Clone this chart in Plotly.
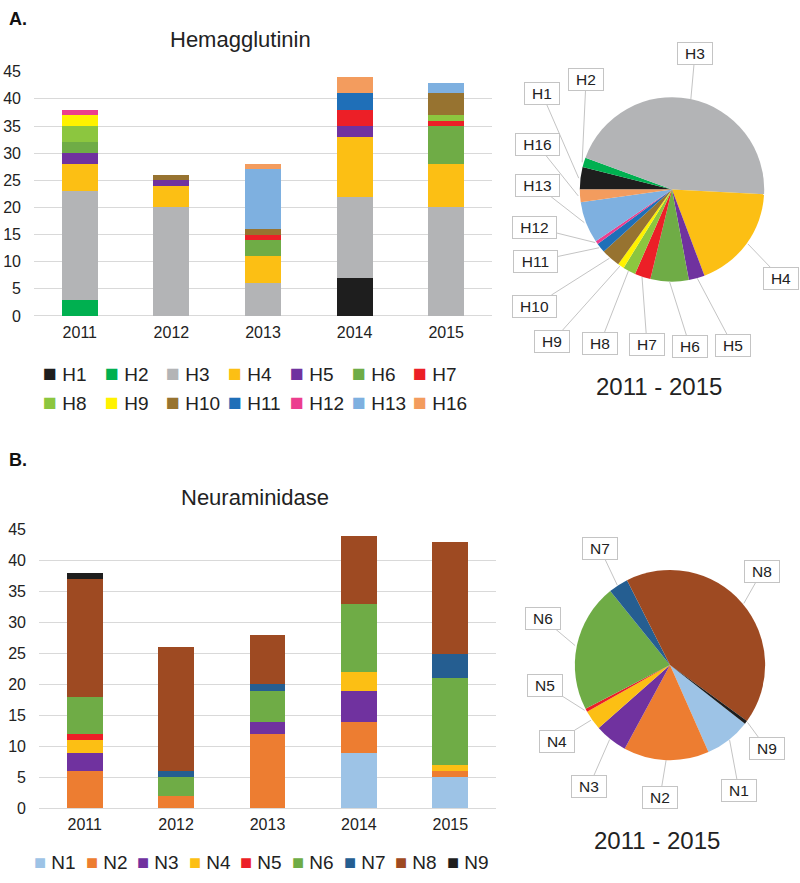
import numpy as np
import plotly.graph_objects as go

# ---------------- data ----------------
years = ['2011', '2012', '2013', '2014', '2015']

h_labels = ['H1', 'H2', 'H3', 'H4', 'H5', 'H6', 'H7', 'H8', 'H9', 'H10', 'H11', 'H12', 'H13', 'H16']
H1 = [0, 0, 0, 7, 0]
H2 = [3, 0, 0, 0, 0]
H3 = [20, 20, 6, 15, 20]
H4 = [5, 4, 5, 11, 8]
H5 = [2, 1, 0, 2, 0]
H6 = [2, 0, 3, 0, 7]
H7 = [0, 0, 1, 3, 1]
H8 = [3, 0, 0, 0, 1]
H9 = [2, 0, 0, 0, 0]
H10 = [0, 1, 1, 0, 4]
H11 = [0, 0, 0, 3, 0]
H12 = [1, 0, 0, 0, 0]
H13 = [0, 0, 11, 0, 2]
H16 = [0, 0, 1, 3, 0]
h_series = [H1, H2, H3, H4, H5, H6, H7, H8, H9, H10, H11, H12, H13, H16]

n_labels = ['N1', 'N2', 'N3', 'N4', 'N5', 'N6', 'N7', 'N8', 'N9']
N1 = [0, 0, 0, 9, 5]
N2 = [6, 2, 12, 5, 1]
N3 = [3, 0, 2, 5, 0]
N4 = [2, 0, 0, 3, 1]
N5 = [1, 0, 0, 0, 0]
N6 = [6, 3, 5, 11, 14]
N7 = [0, 1, 1, 0, 4]
N8 = [19, 20, 8, 11, 18]
N9 = [1, 0, 0, 0, 0]
n_series = [N1, N2, N3, N4, N5, N6, N7, N8, N9]

y_ticks = [0, 5, 10, 15, 20, 25, 30, 35, 40, 45]

# ---------------- styles ----------------
h_colors = ['#1e1e1e', '#00b050', '#b3b4b6', '#fcbf14', '#70329f', '#6fac46', '#ec1f27',
            '#8cc63f', '#fff200', '#977330', '#1f6fb8', '#ec3e8e', '#7eb0e0', '#f39c5e']
n_colors = ['#9dc3e6', '#ed7d31', '#70329f', '#fcbf14', '#ec1f27', '#6fac46', '#255e91',
            '#9e4a22', '#1e1e1e']

W, Hh = 800, 883
FONT = 'Liberation Sans, Arial, sans-serif'
TXT = '#222222'
GRID = '#d9d9d9'


def px_x(x):
    return x / W


def px_y(y):
    return 1 - y / Hh


fig = go.Figure()

for lab, vals, col in zip(h_labels, h_series, h_colors):
    fig.add_trace(go.Bar(x=years, y=vals, name=lab, marker=dict(color=col, line=dict(width=0)),
                         xaxis='x', yaxis='y', showlegend=False))

for lab, vals, col in zip(n_labels, n_series, n_colors):
    fig.add_trace(go.Bar(x=years, y=vals, name=lab, marker=dict(color=col, line=dict(width=0)),
                         xaxis='x2', yaxis='y2', showlegend=False))

# pies (totals over 2011-2015)
h_tot = [int(sum(s)) for s in h_series]
n_tot = [int(sum(s)) for s in n_series]

pieA = dict(cx=672, cy=185, r=94, rot=270)
pieB = dict(cx=670, cy=670, r=97, rot=128)

for p, labs, vals, cols in [(pieA, h_labels, h_tot, h_colors), (pieB, n_labels, n_tot, n_colors)]:
    fig.add_trace(go.Pie(labels=labs, values=vals, sort=False, direction='clockwise',
                         rotation=p['rot'], marker=dict(colors=cols, line=dict(width=0)),
                         textinfo='none', textposition='none', hoverinfo='label+value',
                         showlegend=False,
                         domain=dict(x=[px_x(p['cx'] - p['r']), px_x(p['cx'] + p['r'])],
                                     y=[px_y(p['cy'] + p['r']), px_y(p['cy'] - p['r'])])))

# label box centres (pixels)
h_boxes = {'H1': (542, 89), 'H2': (586, 75), 'H3': (695, 47), 'H4': (781, 275), 'H5': (733, 343),
           'H6': (690, 344), 'H7': (647, 342), 'H8': (600, 341), 'H9': (552, 339), 'H10': (534, 303),
           'H11': (535, 258), 'H12': (534, 224), 'H13': (537, 182), 'H16': (537, 140)}
n_boxes = {'N1': (739, 797), 'N2': (660, 804), 'N3': (589, 793), 'N4': (557, 747), 'N5': (545, 691),
           'N6': (543, 623), 'N7': (600, 552), 'N8': (762, 575), 'N9': (767, 755)}

annotations = []


def pie_labels(p, labs, vals, boxes):
    total = float(sum(vals))
    cum = 0.0
    for lab, v in zip(labs, vals):
        mid = p['rot'] + (cum + v / 2.0) / total * 360.0
        cum += v
        th = np.radians(mid)
        tx = p['cx'] + p['r'] * np.sin(th)
        ty = p['cy'] - p['r'] * np.cos(th)
        bx, by = boxes[lab]
        annotations.append(dict(
            x=px_x(tx), y=px_y(ty), xref='paper', yref='paper', text=lab,
            showarrow=True, arrowhead=0, arrowwidth=1, arrowcolor='#c4c4c4', standoff=0,
            ax=bx - tx, ay=by - ty, axref='pixel', ayref='pixel',
            bordercolor='#c4c4c4', borderwidth=1, borderpad=2, bgcolor='white',
            width=len(lab) * 9 + 12, font=dict(family=FONT, size=15.5, color=TXT)))


pie_labels(pieA, h_labels, h_tot, h_boxes)
pie_labels(pieB, n_labels, n_tot, n_boxes)


# legends: rows of colour squares + names (left edge x0, column step, row centre y)
def legend_row(labs, cols, x0, step, y, sq):
    for i, (lab, col) in enumerate(zip(labs, cols)):
        annotations.append(dict(
            text='<span style="color:%s;font-size:%dpx">\u25A0</span> %s' % (col, sq, lab),
            x=px_x(x0 + i * step), y=px_y(y), xref='paper', yref='paper',
            xanchor='left', yanchor='middle', showarrow=False,
            font=dict(family=FONT, size=19, color=TXT)))


legend_row(h_labels[:7], h_colors[:7], 41, 61.7, 372, 23)
legend_row(h_labels[7:], h_colors[7:], 41, 61.7, 402, 23)
legend_row(n_labels, n_colors, 32, 51.6, 871, 20)

# titles and panel letters
for txt, x, y, size in [('<b>A.</b>', 7, 11, 18), ('<b>B.</b>', 7, 461, 18)]:
    annotations.append(dict(text=txt, x=px_x(x), y=px_y(y), xref='paper', yref='paper',
                            xanchor='left', yanchor='middle', showarrow=False,
                            font=dict(family=FONT, size=size, color='#111111')))
for txt, x, y, size in [('Hemagglutinin', 240, 32, 22), ('Neuraminidase', 255, 499, 22),
                        ('2011 - 2015', 659, 386, 24), ('2011 - 2015', 657, 849, 24)]:
    annotations.append(dict(text=txt, x=px_x(x), y=px_y(y), xref='paper', yref='paper',
                            xanchor='center', yanchor='middle', showarrow=False,
                            font=dict(family=FONT, size=size, color=TXT)))

xa = dict(type='category', showgrid=False, zeroline=False, showline=False, ticks='',
          tickfont=dict(family=FONT, size=16, color=TXT), ticklabelstandoff=5, fixedrange=True)
ya = dict(range=[0, 45], tickvals=y_ticks, showgrid=True, gridcolor=GRID, gridwidth=1,
          zeroline=True, zerolinecolor=GRID, zerolinewidth=1, showline=False, ticks='',
          tickfont=dict(family=FONT, size=16, color=TXT), ticklabelstandoff=12, fixedrange=True)

fig.update_layout(
    width=W, height=Hh, margin=dict(l=0, r=0, t=0, b=0),
    paper_bgcolor='white', plot_bgcolor='white',
    barmode='stack', bargap=0.607,
    xaxis=dict(xa, domain=[px_x(34), px_x(492)], anchor='y'),
    yaxis=dict(ya, domain=[px_y(314), px_y(65)], anchor='x'),
    xaxis2=dict(xa, domain=[px_x(39), px_x(496)], anchor='y2'),
    yaxis2=dict(ya, domain=[px_y(816), px_y(532)], anchor='x2'),
    annotations=annotations,
    showlegend=False,
)

fig.write_html('out.html', config={'displayModeBar': False},
               post_script="document.body.style.margin='0px';document.body.style.overflow='hidden';")
